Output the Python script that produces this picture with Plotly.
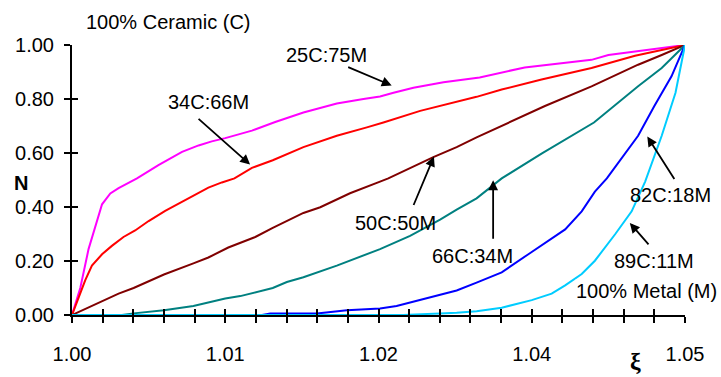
import plotly.graph_objects as go

# ---- axis categories (positions along the category axis, 0..20) ----
tick_pos = [0, 5, 10, 15, 20]
tick_labels = ["1.00", "1.01", "1.02", "1.04", "1.05"]
y_ticks = [0.0, 0.2, 0.4, 0.6, 0.8, 1.0]

# ---- series (x = category position, y = N) ----
x_25C75M = [0, 0.27, 0.54, 0.98, 1.25, 1.52, 2.12, 2.82, 3.59, 4.13, 4.56, 5.0, 5.87, 6.63,
            7.55, 8.64, 9.51, 10.05, 10.49, 11.14, 12.12, 13.3, 14.77, 16.95, 17.5, 20]
y_25C75M = [0, 0.10, 0.244, 0.41, 0.45, 0.47, 0.506, 0.555, 0.604, 0.628, 0.643, 0.655, 0.683, 0.715,
            0.75, 0.783, 0.80, 0.809, 0.823, 0.842, 0.862, 0.88, 0.917, 0.945, 0.963, 1.0]

x_34C66M = [0, 0.1, 0.43, 0.65, 0.98, 1.3, 1.68, 2.06, 2.5, 3.04, 3.8, 4.45, 4.89, 5.3, 5.87, 6.55,
            7.55, 8.64, 9.62, 10.16, 11.36, 12.33, 13.2, 14.02, 15.32, 16.95, 18.37, 20]
y_34C66M = [0, 0.03, 0.128, 0.183, 0.225, 0.256, 0.289, 0.313, 0.348, 0.386, 0.433, 0.472, 0.491, 0.506,
            0.545, 0.573, 0.622, 0.664, 0.695, 0.713, 0.756, 0.783, 0.808, 0.835, 0.872, 0.915, 0.96, 1.0]

x_50C50M = [0, 0.98, 1.52, 2.01, 3.0, 3.96, 4.45, 5.1, 5.98, 6.55, 7.55, 8.1, 9.07, 10.05, 10.32,
            11.79, 12.55, 13.2, 14.24, 15.43, 16.95, 18.47, 19.24, 20]
y_50C50M = [0, 0.049, 0.079, 0.10, 0.15, 0.191, 0.213, 0.25, 0.289, 0.323, 0.378, 0.399, 0.451, 0.494, 0.506,
            0.585, 0.622, 0.658, 0.713, 0.774, 0.847, 0.927, 0.963, 1.0]

x_66C34M = [0, 1.63, 2.01, 3.0, 3.96, 4.45, 5.0, 5.49, 5.98, 6.55, 7.01, 7.55, 8.64, 9.07, 10.05,
            11.03, 12.01, 12.55, 13.2, 14.02, 15.32, 17.03, 18.47, 19.24, 20]
y_66C34M = [0, 0, 0.006, 0.018, 0.033, 0.045, 0.061, 0.07, 0.085, 0.10, 0.122, 0.14, 0.183, 0.201, 0.244,
            0.293, 0.353, 0.39, 0.432, 0.506, 0.598, 0.713, 0.847, 0.915, 1.0]

x_82C18M = [0, 6.2, 6.47, 7.99, 8.97, 10.05, 10.59, 11.57, 12.55, 13.2, 14.02, 14.89, 16.09, 16.63,
            17.06, 17.45, 18.47, 19.0, 19.56, 20]
y_82C18M = [0, 0, 0.006, 0.006, 0.018, 0.024, 0.033, 0.061, 0.091, 0.12, 0.158, 0.225, 0.317, 0.384,
            0.457, 0.506, 0.664, 0.774, 0.884, 1.0]

x_89C11M = [0, 10.8, 12.01, 12.55, 13.2, 14.02, 15.0, 15.65, 16.09, 16.63, 17.06, 17.72, 18.26, 18.7,
            19.24, 19.69, 20]
y_89C11M = [0, 0, 0.006, 0.008, 0.014, 0.027, 0.055, 0.079, 0.11, 0.152, 0.201, 0.299, 0.384, 0.494,
            0.664, 0.823, 1.0]

series = [
    ("25C:75M", x_25C75M, y_25C75M, "#FF00FF"),
    ("34C:66M", x_34C66M, y_34C66M, "#FF0000"),
    ("50C:50M", x_50C50M, y_50C50M, "#800000"),
    ("66C:34M", x_66C34M, y_66C34M, "#008080"),
    ("82C:18M", x_82C18M, y_82C18M, "#0000FF"),
    ("89C:11M", x_89C11M, y_89C11M, "#00CCFF"),
]

FONT = "Liberation Sans, Arial, sans-serif"
FS = 20

fig = go.Figure()
for name, xs, ys, col in series:
    fig.add_trace(go.Scatter(x=xs, y=ys, mode="lines", name=name,
                             line=dict(color=col, width=2), showlegend=False,
                             hoverinfo="skip", cliponaxis=False))
# dummy trace for the overlay axes (inner half of crossing ticks)
fig.add_trace(go.Scatter(x=[None], y=[None], xaxis="x2", yaxis="y2",
                         showlegend=False, hoverinfo="skip"))

all_ticks = list(range(21))
ticktext = [tick_labels[tick_pos.index(t)] if t in tick_pos else "" for t in all_ticks]

fig.update_layout(
    width=721, height=377,
    margin=dict(l=72, r=36, t=45, b=58),
    paper_bgcolor="white", plot_bgcolor="white",
    font=dict(family=FONT, size=FS, color="black"),
    xaxis=dict(range=[0, 20], tickmode="array", tickvals=all_ticks, ticktext=ticktext,
               ticks="outside", ticklen=6, tickwidth=2, tickcolor="black",
               showline=True, linewidth=2, linecolor="black",
               showgrid=False, zeroline=False, tickfont=dict(size=FS),
               ticklabelstandoff=14, layer="below traces"),
    yaxis=dict(range=[0, 1], tickmode="array", tickvals=y_ticks, tickformat=".2f",
               ticks="outside", ticklen=6, tickwidth=2, tickcolor="black",
               showline=True, linewidth=2, linecolor="black",
               showgrid=False, zeroline=False, tickfont=dict(size=FS),
               ticklabelstandoff=6, layer="below traces"),
    xaxis2=dict(overlaying="x", anchor="y", range=[0, 20], tickmode="array",
                tickvals=all_ticks, ticks="inside", ticklen=6, tickwidth=2,
                tickcolor="black", showticklabels=False, showline=False,
                showgrid=False, zeroline=False),
    yaxis2=dict(overlaying="y", anchor="x", range=[0, 1], tickmode="array",
                tickvals=y_ticks, ticks="inside", ticklen=6, tickwidth=2,
                tickcolor="black", showticklabels=False, showline=False,
                showgrid=False, zeroline=False),
)

# arrows: (head x, head y, tail offset px)
arrows = [
    (10.43, 0.850, -45, -19),
    (5.81, 0.557, -53, -47),
    (11.81, 0.587, -21, 50),
    (13.74, 0.499, 0, 60),
    (18.77, 0.661, 28, 44),
    (18.20, 0.341, 20, 23),
]
for hx, hy, ax, ay in arrows:
    fig.add_annotation(x=hx, y=hy, xref="x", yref="y", ax=ax, ay=ay, text="",
                       showarrow=True, arrowhead=2, arrowsize=1.1, arrowwidth=1.8,
                       arrowcolor="black")

labels = [
    ("25C:75M", 8.29, 0.963, {}),
    ("34C:66M", 4.44, 0.790, {}),
    ("50C:50M", 10.57, 0.342, {}),
    ("66C:34M", 13.07, 0.218, {}),
    ("82C:18M", 19.54, 0.445, {}),
    ("89C:11M", 18.98, 0.201, {}),
    ("100% Metal (M)", 18.74, 0.088, {"bgcolor": "white"}),
]
for txt, tx, ty, extra in labels:
    fig.add_annotation(x=tx, y=ty, xref="x", yref="y", text=txt, showarrow=False,
                       font=dict(family=FONT, size=FS, color="black"),
                       xanchor="center", yanchor="middle", borderpad=0, **extra)

# labels outside the plot area (paper coordinates)
fig.add_annotation(x=0.1574, y=1.085, xref="paper", yref="paper", text="100% Ceramic (C)",
                   showarrow=False, font=dict(family=FONT, size=FS, color="black"),
                   xanchor="center", yanchor="middle")
fig.add_annotation(x=-0.0824, y=0.489, xref="paper", yref="paper", text="<b>N</b>",
                   showarrow=False, font=dict(family=FONT, size=FS, color="black"),
                   xanchor="center", yanchor="middle")
fig.add_annotation(x=0.920, y=-0.1715, xref="paper", yref="paper", text="<b>ξ</b>",
                   showarrow=False,
                   font=dict(family="Liberation Serif, Times New Roman, serif", size=24, color="black"),
                   xanchor="center", yanchor="middle")

fig.write_html("out.html")
